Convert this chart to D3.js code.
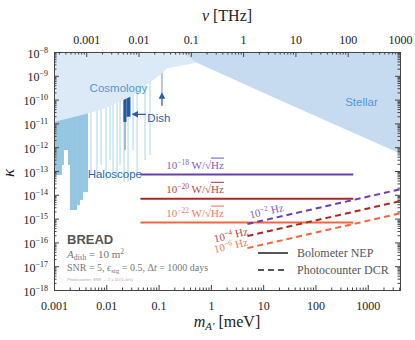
<!DOCTYPE html>
<html lang="en">
<head>
<meta charset="UTF-8">
<title>BREAD dark photon reach</title>
<style>
  body { margin: 0; background: #fff; }
  .axis path, .axis line { stroke: #444; }
  .serif { font-family: "Liberation Serif", "DejaVu Serif", serif; }
  .sans { font-family: "Liberation Sans", Arial, sans-serif; }
</style>
</head>
<body>
<div id="chart"></div>
<script src="https://d3js.org/d3.v7.min.js"></script>
<script>
const width = 415, height = 340;
const margin = {left: 54, right: 15, top: 52, bottom: 50};

// ---- data (mass in meV, kappa dimensionless) ----
const massTicks = [0.001, 0.01, 0.1, 1, 10, 100, 1000];
const freqTicks = [0.001, 0.01, 0.1, 1, 10, 100, 1000];
const kappaExp = [-18, -17, -16, -15, -14, -13, -12, -11, -10, -9, -8];

const cosmoMass = [0.001, 0.0076, 0.0284, 0.106, 0.145, 0.54];
const cosmoKappa = [1.15e-11, 3.6e-11, 1.29e-10, 1.07e-9, 2.1e-9, 3.5e-9];

const stellarMass = [0.28, 0.54, 21, 4136];
const stellarKappa = [1e-8, 3.5e-9, 9.5e-11, 5.4e-13];

// haloscope blocks: [mass low, mass high, lower kappa]
const haloBlocks = [
  [0.001, 0.00142, 6.8e-14],
  [0.00142, 0.00155, 1.8e-13],
  [0.00155, 0.00185, 7.6e-13],
  [0.00185, 0.00202, 1.8e-13],
  [0.00202, 0.00276, 2.3e-15],
  [0.00276, 0.00314, 3.7e-15],
  [0.00314, 0.00359, 6.0e-15],
  [0.00359, 0.00447, 1.3e-14]
];
// thin haloscope spikes
const spikeMass = [0.00509, 0.00664, 0.00792, 0.00987, 0.01177, 0.01343, 0.01602, 0.01828, 0.0218, 0.026, 0.0324, 0.0387, 0.055, 0.0685];
const spikeKappa = [6.8e-14, 5.1e-14, 1.8e-13, 4.2e-14, 2.9e-13, 9.1e-14, 5.1e-14, 1.8e-13, 3.5e-14, 3.5e-14, 7.6e-13, 6.8e-14, 2.9e-13, 4.7e-13];

// dish limits: [mass low, mass high, lower kappa]
const dishBlocks = [
  [0.0212, 0.0243, 1.15e-11],
  [0.0243, 0.0290, 1.9e-11],
  [0.0225, 0.0232, 7.6e-13]
];
const dishLineMass = 0.116, dishLineKappa = 1.4e-10;

// BREAD bolometer (NEP) - flat lines
const nepLabels = ["10", "10", "10"];
const nepExp = ["−18", "−20", "−22"];
const nepKappa = [7.1e-14, 6.8e-15, 6.8e-16];
const nepMass = [0.045, 530];
const nepColors = ["#6a3fb6", "#a82828", "#f5643f"];

// BREAD photocounter (DCR) - dashed lines
const dcrExp = ["−2", "−4", "−6"];
const dcrMass = [5, 4136];
const dcrKappa = [[5.9e-16, 1.7e-14], [1.86e-16, 5.4e-15], [5.75e-17, 1.66e-15]];

// ---- scales ----
const x = d3.scaleLog().domain([1e-3, 4136]).range([margin.left, width - margin.right]);
const y = d3.scaleLog().domain([1e-18, 1e-8]).range([height - margin.bottom, margin.top]);
const xTop = d3.scaleLog().domain([1e-3 * 0.2418, 4136 * 0.2418]).range(x.range());

const svg = d3.select("#chart").append("svg")
  .attr("width", width).attr("height", height);

const defs = svg.append("defs");
defs.append("clipPath").attr("id", "plot")
  .append("rect").attr("x", margin.left).attr("y", margin.top)
  .attr("width", width - margin.left - margin.right)
  .attr("height", height - margin.top - margin.bottom);
defs.append("marker").attr("id", "arrow0")
  .attr("viewBox", "0 0 10 10").attr("refX", 5).attr("refY", 5)
  .attr("markerWidth", 5).attr("markerHeight", 5).attr("orient", "auto-start-reverse")
  .append("path").attr("d", "M0,0 L10,5 L0,10 z").attr("fill", "#2a5ea8");

const plot = svg.append("g").attr("clip-path", "url(#plot)");
const yTop = y(1e-8);

// haloscope (drawn under cosmology)
plot.selectAll("rect.halo").data(haloBlocks).enter().append("rect")
  .attr("x", d => x(d[0])).attr("width", d => x(d[1]) - x(d[0]))
  .attr("y", yTop).attr("height", d => y(d[2]) - yTop)
  .attr("fill", "#95c6e1");
plot.selectAll("rect.spike").data(spikeMass).enter().append("rect")
  .attr("x", d => x(d) - 0.5).attr("width", 1.1)
  .attr("y", yTop).attr("height", (d, i) => y(spikeKappa[i]) - yTop)
  .attr("fill", "#b4d7ec");

// dish
plot.selectAll("rect.dish").data(dishBlocks).enter().append("rect")
  .attr("x", d => x(d[0])).attr("width", d => x(d[1]) - x(d[0]))
  .attr("y", yTop).attr("height", d => y(d[2]) - yTop)
  .attr("fill", "#1f5aa6");
plot.append("line")
  .attr("x1", x(dishLineMass)).attr("x2", x(dishLineMass))
  .attr("y1", yTop).attr("y2", y(dishLineKappa))
  .attr("stroke", "#9cb6d6").attr("stroke-width", 1.5);

// cosmology
const area = d3.line();
const cosmoPts = [[x(0.001), yTop]].concat(cosmoMass.map((m, i) => [x(m), y(cosmoKappa[i])]))
  .concat([[x(cosmoMass[cosmoMass.length - 1]), yTop]]);
plot.append("path").attr("d", area(cosmoPts) + "Z").attr("fill", "#dce9f6");

// stellar
const stellarPts = stellarMass.map((m, i) => [x(m), y(stellarKappa[i])])
  .concat([[x(4136), yTop]]);
plot.append("path").attr("d", area(stellarPts) + "Z").attr("fill", "#c6dbf0");

// region labels
svg.append("text").attr("class", "sans").attr("x", x(0.0048)).attr("y", y(2.0e-10))
  .attr("font-size", 11.5).attr("fill", "#5198d4").text("Cosmology");
svg.append("text").attr("class", "sans").attr("x", x(0.0044)).attr("y", y(5.0e-14))
  .attr("font-size", 11.5).attr("fill", "#2b6cb5").text("Haloscope");
svg.append("text").attr("class", "sans").attr("x", x(370)).attr("y", y(5.6e-11))
  .attr("font-size", 11.5).attr("fill", "#5198d4").text("Stellar");
svg.append("text").attr("class", "sans").attr("x", x(0.061)).attr("y", y(1.2e-11))
  .attr("font-size", 11.5).attr("fill", "#2a5ea8").text("Dish");

// dish arrows
svg.append("line")
  .attr("x1", x(0.057)).attr("x2", x(0.035))
  .attr("y1", y(2.4e-11)).attr("y2", y(2.4e-11))
  .attr("stroke", "#2a5ea8").attr("stroke-width", 1.3).attr("marker-end", "url(#arrow0)");
svg.append("line")
  .attr("x1", x(dishLineMass)).attr("x2", x(dishLineMass))
  .attr("y1", y(5.5e-11)).attr("y2", y(1.5e-10))
  .attr("stroke", "#2a5ea8").attr("stroke-width", 1.3).attr("marker-end", "url(#arrow0)");

// BREAD NEP lines
nepKappa.forEach((k, i) => {
  plot.append("line")
    .attr("x1", x(nepMass[0])).attr("x2", x(nepMass[1]))
    .attr("y1", y(k)).attr("y2", y(k))
    .attr("stroke", nepColors[i]).attr("stroke-width", 2);
  const t = svg.append("text").attr("class", "serif")
    .attr("x", x(0.5)).attr("y", y(k) - 6).attr("text-anchor", "middle")
    .attr("font-size", 11).attr("fill", nepColors[i]).attr("opacity", 0.85);
  t.append("tspan").text(nepLabels[i]);
  t.append("tspan").attr("font-size", 7.5).attr("dy", -4).text(nepExp[i]);
  t.append("tspan").attr("dy", 4).text(" W/√");
  t.append("tspan").style("text-decoration", "overline").text("Hz");
});

// photocounter DCR dashed lines
dcrKappa.forEach((k, i) => {
  plot.append("line")
    .attr("x1", x(dcrMass[0])).attr("x2", x(dcrMass[1]))
    .attr("y1", y(k[0])).attr("y2", y(k[1]))
    .attr("stroke", nepColors[i]).attr("stroke-width", 2)
    .attr("stroke-dasharray", "6,4");
});
const ang = Math.atan2(y(dcrKappa[0][1]) - y(dcrKappa[0][0]), x(dcrMass[1]) - x(dcrMass[0])) * 180 / Math.PI;
const dcrLabelPos = [[12, 1.45e-15], [2.5, 1.45e-16], [2.5, 5.2e-17]];
dcrExp.forEach((e, i) => {
  const px = x(dcrLabelPos[i][0]), py = y(dcrLabelPos[i][1]);
  const t = svg.append("text").attr("class", "serif")
    .attr("transform", `translate(${px},${py}) rotate(${ang})`)
    .attr("text-anchor", "middle").attr("font-size", 11)
    .attr("fill", nepColors[i]).attr("opacity", 0.85);
  t.append("tspan").text("10");
  t.append("tspan").attr("font-size", 7.5).attr("dy", -4).text(e);
  t.append("tspan").attr("dy", 4).text(" Hz");
});

// legend
const lg = svg.append("g");
lg.append("line").attr("x1", 258).attr("x2", 288).attr("y1", 253).attr("y2", 253)
  .attr("stroke", "#555").attr("stroke-width", 2);
lg.append("line").attr("x1", 258).attr("x2", 288).attr("y1", 270).attr("y2", 270)
  .attr("stroke", "#555").attr("stroke-width", 2).attr("stroke-dasharray", "6,4");
lg.append("text").attr("class", "serif").attr("x", 297).attr("y", 257)
  .attr("font-size", 12).attr("fill", "#555").text("Bolometer NEP");
lg.append("text").attr("class", "serif").attr("x", 297).attr("y", 274)
  .attr("font-size", 12).attr("fill", "#555").text("Photocounter DCR");

// BREAD annotation
svg.append("text").attr("class", "sans").attr("x", 67).attr("y", 244)
  .attr("font-size", 13).attr("font-weight", "bold").attr("fill", "#555").text("BREAD");
const ad = svg.append("text").attr("class", "serif").attr("x", 67).attr("y", 258)
  .attr("font-size", 11).attr("fill", "#777");
ad.append("tspan").attr("font-style", "italic").text("A");
ad.append("tspan").attr("font-size", 7.5).attr("dy", 2).text("dish");
ad.append("tspan").attr("dy", -2).text(" = 10 m");
ad.append("tspan").attr("font-size", 7.5).attr("dy", -4).text("2");
const sn = svg.append("text").attr("class", "serif").attr("x", 67).attr("y", 271)
  .attr("font-size", 10).attr("fill", "#777");
sn.append("tspan").text("SNR = 5, ");
sn.append("tspan").attr("font-style", "italic").text("ϵ");
sn.append("tspan").attr("font-size", 7).attr("dy", 2).text("sig");
sn.append("tspan").attr("dy", -2).text(" = 0.5, Δ");
sn.append("tspan").attr("font-style", "italic").text("t");
sn.append("tspan").text(" = 1000 days");
svg.append("text").attr("class", "sans").attr("x", 67).attr("y", 281)
  .attr("font-size", 4).attr("fill", "#aaa").text("Photocounter: SNR → Z = 5/√(1+b/s)");

// ---- axes ----
function minorTicks(lo, hi) {
  const out = [];
  for (let e = Math.floor(Math.log10(lo)); e <= Math.ceil(Math.log10(hi)); e++) {
    for (let k = 2; k <= 9; k++) {
      const v = k * Math.pow(10, e);
      if (v >= lo && v <= hi) out.push(v);
    }
  }
  return out;
}
const fmt = d => d >= 1 ? d3.format("d")(d) : String(+d.toPrecision(1));
const xb = height - margin.bottom, xr = width - margin.right;

// bottom
svg.append("g").attr("class", "axis").attr("transform", `translate(0,${xb})`)
  .call(d3.axisBottom(x).tickValues(minorTicks(1e-3, 4136)).tickSize(-2.5).tickFormat("").tickSizeOuter(0));
const gb = svg.append("g").attr("class", "axis serif").attr("transform", `translate(0,${xb})`)
  .call(d3.axisBottom(x).tickValues(massTicks).tickSize(-5).tickFormat(fmt).tickSizeOuter(0).tickPadding(11));
gb.selectAll("text").attr("font-size", 12).attr("fill", "#222").attr("font-family", "Liberation Serif, serif");

// top
svg.append("g").attr("class", "axis").attr("transform", `translate(0,${margin.top})`)
  .call(d3.axisTop(xTop).tickValues(minorTicks(xTop.domain()[0], 1000)).tickSize(-2.5).tickFormat("").tickSizeOuter(0));
const gt = svg.append("g").attr("class", "axis").attr("transform", `translate(0,${margin.top})`)
  .call(d3.axisTop(xTop).tickValues(freqTicks).tickSize(-5).tickFormat(fmt).tickSizeOuter(0).tickPadding(8));
gt.selectAll("text").attr("font-size", 12).attr("fill", "#222").attr("font-family", "Liberation Serif, serif");

// left
svg.append("g").attr("class", "axis").attr("transform", `translate(${margin.left},0)`)
  .call(d3.axisLeft(y).tickValues(minorTicks(1e-18, 1e-8)).tickSize(-2.5).tickFormat("").tickSizeOuter(0));
const gl = svg.append("g").attr("class", "axis").attr("transform", `translate(${margin.left},0)`)
  .call(d3.axisLeft(y).tickValues(kappaExp.map(e => Math.pow(10, e))).tickSize(-5).tickFormat("").tickSizeOuter(0));
gl.selectAll(".tick").append("text")
  .attr("x", -6).attr("y", 5).attr("text-anchor", "end")
  .attr("font-family", "Liberation Serif, serif").attr("font-size", 12).attr("fill", "#222")
  .each(function(d, i) {
    const t = d3.select(this);
    t.append("tspan").text("10");
    t.append("tspan").attr("font-size", 8).attr("dy", -5).text("−" + Math.abs(kappaExp[i]));
  });

// right
svg.append("g").attr("class", "axis").attr("transform", `translate(${xr},0)`)
  .call(d3.axisRight(y).tickValues(minorTicks(1e-18, 1e-8)).tickSize(-2.5).tickFormat("").tickSizeOuter(0));
svg.append("g").attr("class", "axis").attr("transform", `translate(${xr},0)`)
  .call(d3.axisRight(y).tickValues(kappaExp.map(e => Math.pow(10, e))).tickSize(-5).tickFormat("").tickSizeOuter(0));

// axis titles
const xt = svg.append("text").attr("class", "serif").attr("x", (margin.left + xr) / 2).attr("y", 327)
  .attr("text-anchor", "middle").attr("font-size", 16).attr("fill", "#222");
xt.append("tspan").attr("font-style", "italic").text("m");
xt.append("tspan").attr("font-style", "italic").attr("font-size", 11).attr("dy", 3).text("A′");
xt.append("tspan").attr("dy", -3).text(" [meV]");

const tt = svg.append("text").attr("class", "serif").attr("x", (margin.left + xr) / 2).attr("y", 21)
  .attr("text-anchor", "middle").attr("font-size", 16).attr("fill", "#222");
tt.append("tspan").attr("font-style", "italic").text("ν");
tt.append("tspan").text(" [THz]");

svg.append("text").attr("class", "serif")
  .attr("transform", `translate(14,${(margin.top + xb) / 2 + 2}) rotate(-90)`)
  .attr("text-anchor", "middle").attr("font-size", 17).attr("font-style", "italic")
  .attr("fill", "#222").text("κ");
</script>
</body>
</html>
